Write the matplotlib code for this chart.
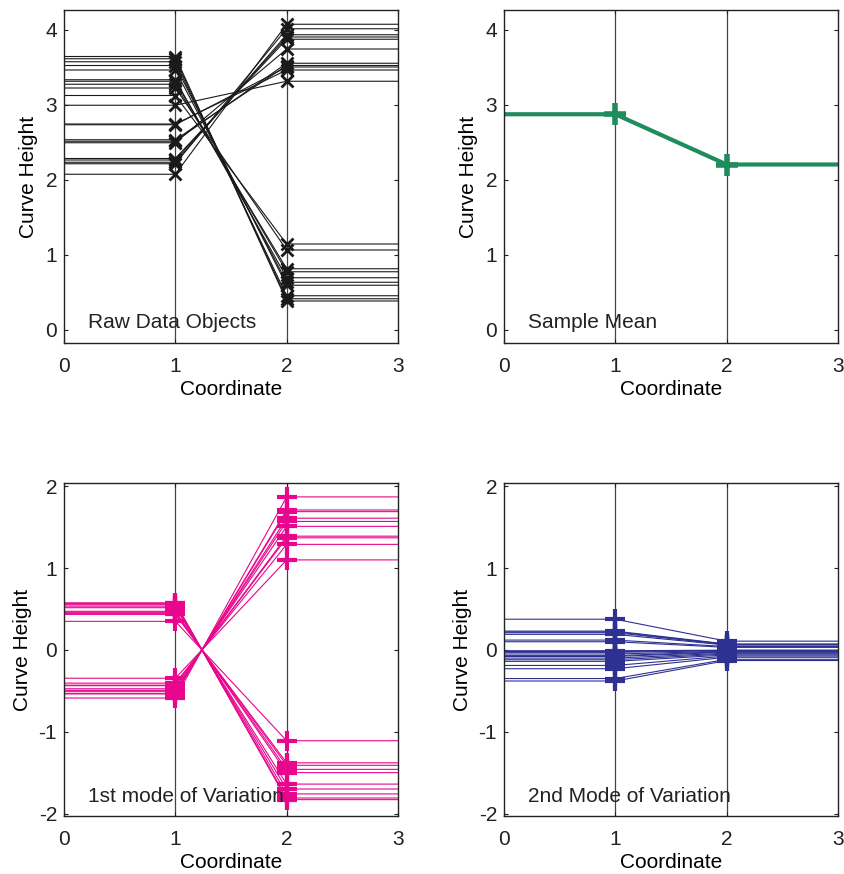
import matplotlib
matplotlib.use("Agg")
import matplotlib.pyplot as plt

plt.rcParams["font.family"] = ["Liberation Sans", "DejaVu Sans"]
plt.rcParams["font.size"] = 15
plt.rcParams["axes.unicode_minus"] = False

# coordinates of the curve knots
knots = [0, 1, 2, 3]

# raw data: height at coordinate 1 and at coordinate 2 (paired)
raw_c1 = [3.64, 3.61, 3.57, 3.52, 3.46, 3.33, 3.31, 3.27, 3.22, 3.12,
          2.99, 2.74, 2.73, 2.53, 2.51, 2.49, 2.28, 2.26, 2.23, 2.21, 2.07]
raw_c2 = [0.38, 0.41, 0.45, 0.59, 0.63, 0.69, 0.77, 0.81, 1.06, 1.14,
          3.31, 3.46, 3.50, 3.52, 3.55, 3.74, 3.87, 3.90, 3.93, 4.01, 4.07]

# sample mean
mean_c1 = 2.87
mean_c2 = 2.20

# first mode of variation
mode1_c1 = [0.575, 0.569, 0.553, 0.535, 0.516, 0.472, 0.459, 0.443, 0.434, 0.349,
            -0.588, -0.538, -0.531, -0.506, -0.494, -0.475, -0.437, -0.431, -0.406, -0.346]
mode1_c2 = [-1.83, -1.81, -1.76, -1.70, -1.64, -1.50, -1.46, -1.41, -1.38, -1.11,
            1.87, 1.71, 1.69, 1.61, 1.57, 1.51, 1.39, 1.37, 1.29, 1.10]

# second mode of variation
mode2_c1 = [0.375, 0.23, 0.22, 0.21, 0.19, 0.12, 0.10, -0.01, -0.02, -0.03,
            -0.05, -0.07, -0.08, -0.10, -0.12, -0.14, -0.19, -0.23, -0.35, -0.38]
mode2_c2 = [0.107, 0.072, 0.068, 0.065, 0.059, 0.041, 0.031, -0.003, -0.006, -0.009,
            -0.016, -0.022, -0.029, -0.040, -0.050, -0.062, -0.075, -0.090, -0.115, -0.130]

BLACK = "#1a1a1a"
GREEN = "#1f8c5c"
MAGENTA = "#e8068c"
NAVY = "#2e3192"

W, H = 844, 874
fig = plt.figure(figsize=(W / 100, H / 100), dpi=100)


def make_axes(x0, y0, x1, y1):
    return fig.add_axes([x0 / W, 1 - y1 / H, (x1 - x0) / W, (y1 - y0) / H])


def style(ax, ylim, yticks, label):
    ax.set_xlim(0, 3)
    ax.set_ylim(*ylim)
    ax.set_xticks([0, 1, 2, 3])
    ax.set_yticks(yticks)
    ax.tick_params(direction="in", length=3, top=True, right=True, width=0.8,
                   pad=5, labelsize=15, colors="#222222")
    ax.tick_params(axis="x", pad=10)
    for s in ax.spines.values():
        s.set_linewidth(1.0)
        s.set_color("#222222")
    for xv in (1, 2):
        ax.axvline(xv, color="#444444", lw=0.9, zorder=1)
    ax.set_xlabel("Coordinate", labelpad=3)
    ax.set_ylabel("Curve Height", labelpad=5)
    ax.text(0.22, label[1], label[0], fontsize=15, va="center", color="#222222")


def curves(ax, c1, c2, color, marker, ms, mew, lw):
    for a, b in zip(c1, c2):
        ax.plot(knots, [a, a, b, b], color=color, lw=lw, zorder=2)
        ax.plot(knots[1:3], [a, b], ls="none", marker=marker, ms=ms,
                mew=mew, color=color, zorder=3)


ax1 = make_axes(64, 10, 398, 343)
curves(ax1, raw_c1, raw_c2, BLACK, "x", 8, 2.0, 0.8)
style(ax1, (-0.18, 4.26), [0, 1, 2, 3, 4], ("Raw Data Objects", 0.09))

ax2 = make_axes(504, 10, 838, 343)
curves(ax2, [mean_c1], [mean_c2], GREEN, "+", 16, 4.0, 3.0)
style(ax2, (-0.18, 4.26), [0, 1, 2, 3, 4], ("Sample Mean", 0.09))

ax3 = make_axes(64, 483, 398, 816)
curves(ax3, mode1_c1, mode1_c2, MAGENTA, "+", 14, 3.0, 0.8)
style(ax3, (-2.03, 2.04), [-2, -1, 0, 1, 2], ("1st mode of Variation", -1.79))

ax4 = make_axes(504, 483, 838, 816)
curves(ax4, mode2_c1, mode2_c2, NAVY, "+", 14, 3.0, 0.8)
style(ax4, (-2.03, 2.04), [-2, -1, 0, 1, 2], ("2nd Mode of Variation", -1.79))

fig.savefig("out.png", dpi=100)
